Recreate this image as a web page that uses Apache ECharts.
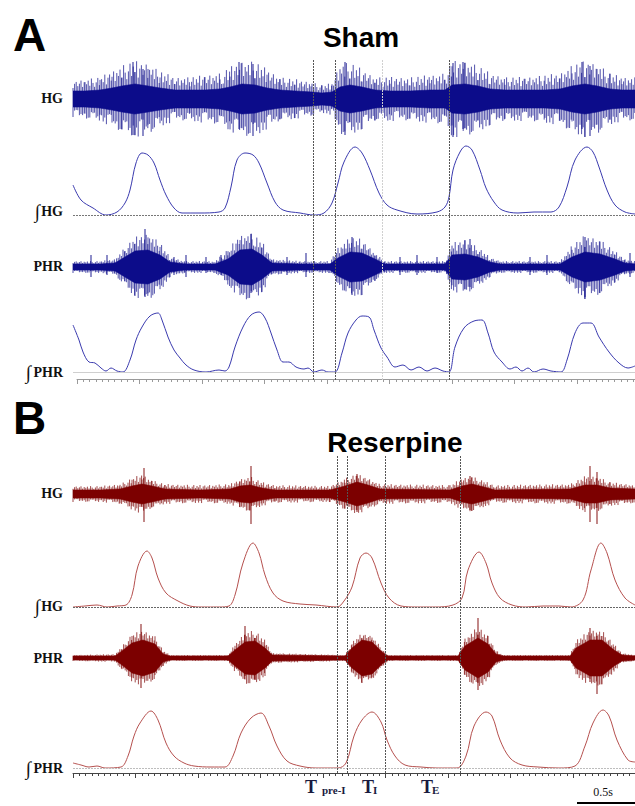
<!DOCTYPE html>
<html><head><meta charset="utf-8">
<script src="https://cdn.jsdelivr.net/npm/echarts@6/dist/echarts.min.js"></script>
<style>html,body{margin:0;padding:0;background:#fff}#c{width:635px;height:806px}</style>
</head><body><div id="c"></div>
<script>
// ---- time in ms; envelope / integrated amplitudes in arbitrary units ----
const markersA = [1920, 2096, 2472, 3008];
const markersB = [2112, 2192, 2496, 3096];

// raw envelopes: [t, core half-amplitude, spike half-amplitude]
const rawHG_A = [[0,8,18],[96,8,20],[216,9,22],[312,11,28],[392,13,34],[496,15,38],[600,13,36],[696,11,28],[816,9,22],[936,9,22],[1056,9,24],[1176,10,26],[1256,12,32],[1352,15,38],[1456,14,38],[1552,11,30],[1656,9,22],[1776,8,20],[1912,7,17],[1992,6,14],[2072,7,16],[2136,12,36],[2216,14,37],[2312,12,30],[2416,9,22],[2536,8,22],[2696,8,22],[2856,9,24],[2976,9,26],[3032,14,38],[3136,15,38],[3240,13,34],[3336,10,26],[3456,9,22],[3616,9,22],[3776,9,24],[3896,10,26],[3992,13,34],[4096,15,38],[4192,13,36],[4296,10,26],[4392,9,22],[4496,9,22]];
const spikesHG_A = [[480,37,36],[560,30,37],[1328,37,30],[1440,35,37],[2176,37,36],[3040,36,38],[3120,37,30],[4072,37,30],[4136,33,37]];

const rawPHR_A = [[0,3,6],[216,3,6],[336,4,8],[416,10,20],[496,16,30],[600,17,34],[696,12,25],[776,5,10],[896,3,6],[1136,3,6],[1240,8,18],[1336,17,32],[1432,18,34],[1512,12,26],[1592,4,8],[1816,3,6],[2056,3,6],[2120,9,20],[2216,15,30],[2312,14,28],[2416,8,14],[2496,3,6],[2976,3,6],[3032,12,24],[3136,13,28],[3240,10,20],[3336,5,10],[3416,3,6],[3896,3,6],[3992,10,22],[4096,15,32],[4216,13,28],[4336,8,16],[4416,4,8],[4496,3,6]];
const spikesPHR_A = [[144,12,10],[272,12,8],[808,10,8],[904,12,10],[1064,10,6],[1184,12,8],[1712,10,8],[1864,14,10],[2616,10,8],[2752,12,8],[2912,10,6],[3656,10,8],[3792,12,8],[4456,14,10],[576,38,30],[1424,33,26],[2232,30,28],[3176,28,20],[4096,30,30]];

const rawHG_B = [[0,4,8],[216,4,8],[376,5,10],[472,8,16],[552,10,20],[632,8,14],[736,5,10],[1016,4,9],[1256,5,10],[1336,8,15],[1416,9,18],[1512,6,12],[1616,4,9],[2056,4,8],[2176,8,16],[2272,12,20],[2360,9,16],[2456,5,10],[3016,4,9],[3112,8,16],[3192,10,18],[3288,7,13],[3376,4,9],[3976,5,10],[4096,9,18],[4192,9,18],[4296,6,12],[4496,5,9]];
const spikesHG_B = [[568,26,28],[1424,28,30],[2272,20,18],[3176,18,16],[4136,28,28],[4192,22,30]];

const rawPHR_B = [[0,2,3],[336,2,4],[392,7,12],[472,15,24],[560,18,28],[656,14,22],[720,4,8],[776,2,3],[1240,2,3],[1296,8,14],[1376,16,26],[1456,17,28],[1536,10,18],[1592,3,5],[2176,2,3],[2232,10,16],[2312,18,25],[2392,16,22],[2472,6,10],[2520,2,3],[3080,2,3],[3136,12,20],[3240,20,32],[3320,14,22],[3384,4,8],[3440,2,3],[3976,2,3],[4024,10,18],[4136,18,28],[4232,18,28],[4328,8,14],[4392,3,5],[4496,2,3]];
const spikesPHR_B = [[544,34,30],[1376,32,18],[1456,20,22],[3240,40,32],[4136,30,24],[4192,22,36]];

// integrated traces: [t, amplitude]
const intHG_A = [[0,30],[64,15],[160,7],[264,0],[352,3],[416,12],[456,25],[504,52],[552,62],[600,60],[648,52],[696,35],[744,20],[808,7],[872,2],[1016,2],[1168,3],[1216,7],[1264,28],[1312,55],[1376,62],[1440,60],[1488,52],[1552,32],[1616,13],[1680,5],[1816,2],[1928,0],[2008,2],[2072,12],[2120,32],[2168,53],[2256,68],[2312,62],[2376,45],[2448,22],[2512,10],[2592,5],[2752,1],[2912,3],[2976,8],[3008,18],[3040,45],[3096,63],[3144,69],[3192,65],[3256,45],[3304,27],[3368,13],[3432,5],[3560,2],[3688,3],[3824,3],[3888,8],[3952,28],[4016,55],[4112,68],[4160,63],[4208,48],[4272,25],[4336,10],[4416,3],[4496,1]];
const intPHR_A = [[0,47],[48,32],[80,20],[128,10],[176,9],[224,4],[264,1],[304,4],[352,1],[400,0],[456,12],[504,32],[552,45],[616,56],[680,59],[712,52],[760,35],[808,22],[856,14],[904,7],[968,2],[1064,0],[1168,2],[1216,1],[1248,5],[1296,25],[1360,45],[1424,57],[1488,60],[1536,54],[1584,39],[1632,22],[1680,10],[1728,10],[1784,5],[1848,3],[1880,4],[1928,0],[1992,2],[2040,0],[2096,0],[2152,19],[2200,39],[2264,52],[2312,56],[2368,55],[2408,42],[2464,24],[2512,15],[2576,5],[2640,7],[2704,2],[2768,5],[2832,1],[2896,4],[2960,1],[3008,0],[3056,25],[3128,44],[3208,51],[3272,52],[3320,39],[3368,20],[3432,10],[3496,3],[3544,5],[3592,1],[3640,4],[3688,0],[3760,3],[3824,1],[3904,0],[3952,12],[4016,39],[4080,49],[4144,49],[4208,35],[4288,20],[4368,9],[4440,4],[4496,6]];
const intHG_B = [[0,0],[96,1],[192,2],[272,0],[352,1],[424,2],[472,12],[520,41],[592,56],[632,49],[680,29],[744,14],[840,6],[936,1],[1032,0],[1168,0],[1248,1],[1296,12],[1360,44],[1440,64],[1488,54],[1536,32],[1600,14],[1680,6],[1816,3],[1944,2],[2112,0],[2168,6],[2232,20],[2296,49],[2344,54],[2392,49],[2464,24],[2528,9],[2624,1],[2752,0],[2896,0],[3040,2],[3112,9],[3160,37],[3248,55],[3304,44],[3352,24],[3416,9],[3512,2],[3624,0],[3760,1],[3888,1],[3984,0],[4080,7],[4144,37],[4224,64],[4272,54],[4336,27],[4416,9],[4496,2]];
const intPHR_B = [[0,5],[64,3],[128,1],[192,2],[256,0],[384,1],[440,12],[488,32],[536,45],[624,57],[680,48],[744,25],[808,12],[888,5],[968,2],[1104,1],[1216,1],[1280,12],[1344,35],[1424,50],[1504,55],[1568,42],[1632,22],[1712,7],[1816,2],[1944,0],[2120,0],[2184,5],[2248,32],[2312,48],[2392,56],[2464,46],[2512,28],[2576,12],[2656,3],[2784,1],[2912,0],[3072,0],[3144,12],[3208,42],[3304,56],[3352,52],[3416,28],[3496,10],[3592,3],[3720,1],[3888,0],[4016,2],[4096,22],[4160,45],[4240,58],[4288,52],[4352,28],[4440,8],[4496,6]];

const T_MAX = 4496;
// fixed hatch pattern used only to texture the spike fringe of the raw envelopes
const HATCH = [0.62,0.95,0.38,0.78,0.52,1.0,0.3,0.7,0.86,0.45,0.66,0.92,0.35,0.74,0.55,0.83,0.4,0.97,0.6,0.28];

const chart = echarts.init(document.getElementById('c'), null, {renderer: 'svg', width: 635, height: 806});

const blueDark = '#0c0c8a', blueInt = '#3a3aae';
const redDark = '#7c0000', redInt = '#b5504e';

// grids: [top, height, ymin, ymax]
const gridDefs = [
  [60, 78, -39, 39],   // 0 HG A
  [140, 75, 0, 75],    // 1 ∫HG A
  [227, 80, -40, 40],  // 2 PHR A
  [300, 72, 0, 72],    // 3 ∫PHR A
  [460, 68, -34, 34],  // 4 HG B
  [537, 70, 0, 70],    // 5 ∫HG B
  [618, 80, -40, 40],  // 6 PHR B
  [698, 70, 0, 70]     // 7 ∫PHR B
];
const grid = [], xAxis = [], yAxis = [], series = [];
gridDefs.forEach((g, i) => {
  grid.push({left: 73, right: 0, top: g[0], height: g[1]});
  xAxis.push({type: 'value', gridIndex: i, min: 0, max: T_MAX, show: false});
  yAxis.push({type: 'value', gridIndex: i, min: g[2], max: g[3], show: false});
});
grid.push({left: 73, right: 0, top: 60, height: 320});
grid.push({left: 73, right: 0, top: 456, height: 317});
grid.push({left: 77, right: 0, top: 374, height: 5});
grid.push({left: 73, right: 0, top: 768, height: 5});
[8, 9].forEach(i => {
  xAxis.push({type: 'value', gridIndex: i, min: 0, max: T_MAX, show: false});
  yAxis.push({type: 'value', gridIndex: i, min: 0, max: 1, show: false});
});
[[10, '#9a9a9a', 4464], [11, '#444', T_MAX]].forEach(([i, col, mx]) => {
  xAxis.push({type: 'value', gridIndex: i, min: 0, max: mx, interval: 500,
    axisLine: {show: true, lineStyle: {color: col, width: 1}},
    axisTick: {show: true, length: 5, lineStyle: {color: col, width: 1}},
    minorTick: {show: true, splitNumber: 10, length: 3, lineStyle: {color: col, width: 1}},
    axisLabel: {show: false}, splitLine: {show: false}});
  yAxis.push({type: 'value', gridIndex: i, min: 0, max: 1, show: false});
});

function rawSeries(gi, rows, spikes, dark) {
  const base = {type: 'line', xAxisIndex: gi, yAxisIndex: gi, showSymbol: false, silent: true, animation: false};
  const mk = (idx, sign, col, w) => Object.assign({}, base, {
    data: rows.map(r => [r[0], sign * r[idx]]),
    lineStyle: {color: col, width: w},
    areaStyle: {color: col, opacity: 1}
  });
  // textured fringe between core and spike envelope
  series.push({
    type: 'custom', xAxisIndex: gi, yAxisIndex: gi, silent: true, animation: false,
    data: rows, encode: {x: 0, y: [1, 2]},
    renderItem: (p, api) => {
      const i = p.dataIndex;
      if (i >= rows.length - 1) return null;
      const r0 = rows[i], r1 = rows[i + 1];
      const a = api.coord([r0[0], 0]), b = api.coord([r1[0], 0]);
      const children = [];
      for (let px = Math.ceil(a[0]); px < b[0]; px += 1.6) {
        const f = (px - a[0]) / (b[0] - a[0]);
        const t = r0[0] + (r1[0] - r0[0]) * f;
        const core = r0[1] + (r1[1] - r0[1]) * f;
        const pk = r0[2] + (r1[2] - r0[2]) * f;
        const k = Math.round(px / 1.6);
        const up = core + (pk - core) * HATCH[k % HATCH.length];
        const dn = core + (pk - core) * HATCH[(k * 7 + 3) % HATCH.length];
        const pu = api.coord([t, up]), pd = api.coord([t, -dn]);
        children.push({type: 'line', shape: {x1: px, y1: pu[1], x2: px, y2: pd[1]},
          style: {stroke: dark, lineWidth: 0.9, opacity: 0.8}});
      }
      return {type: 'group', children};
    }
  });
  series.push(mk(1, 1, dark, 0.6), mk(1, -1, dark, 0.6));
  series.push({
    type: 'custom', xAxisIndex: gi, yAxisIndex: gi, silent: true, animation: false,
    data: spikes, encode: {x: 0, y: [1, 2]},
    renderItem: (p, api) => {
      const a = api.coord([api.value(0), api.value(1)]);
      const b = api.coord([api.value(0), -api.value(2)]);
      return {type: 'line', shape: {x1: a[0], y1: a[1], x2: b[0], y2: b[1]}, style: {stroke: dark, lineWidth: 1.1, opacity: 0.85}};
    }
  });
}
function intSeries(gi, data, col, baseCol, baseType) {
  series.push({
    type: 'line', xAxisIndex: gi, yAxisIndex: gi, data: data, showSymbol: false, smooth: 0.35,
    silent: true, animation: false, lineStyle: {color: col, width: 1},
    markLine: {silent: true, symbol: 'none', label: {show: false}, animation: false,
      lineStyle: {color: baseCol, type: baseType, width: 1}, data: [{yAxis: 0}]}
  });
}
function markerSeries(gi, times, faintIdx) {
  series.push({
    type: 'line', xAxisIndex: gi, yAxisIndex: gi, data: [], silent: true, animation: false,
    markLine: {silent: true, symbol: 'none', label: {show: false}, animation: false,
      data: times.map((t, k) => ({xAxis: t, lineStyle: {color: k === faintIdx ? '#d0d0d0' : '#555', type: [2, 1], width: 1}}))}
  });
}

rawSeries(0, rawHG_A, spikesHG_A, blueDark);
intSeries(1, intHG_A, blueInt, '#777', [2, 1]);
rawSeries(2, rawPHR_A, spikesPHR_A, blueDark);
intSeries(3, intPHR_A, blueInt, '#cfcfcf', 'solid');
rawSeries(4, rawHG_B, spikesHG_B, redDark);
intSeries(5, intHG_B, redInt, '#666', [2, 1]);
rawSeries(6, rawPHR_B, spikesPHR_B, redDark);
intSeries(7, intPHR_B, redInt, '#bdbdbd', [2, 1]);
markerSeries(8, markersA, 2);
markerSeries(9, markersB, -1);
series.push({type: 'line', xAxisIndex: 10, yAxisIndex: 10, data: [], silent: true});
series.push({type: 'line', xAxisIndex: 11, yAxisIndex: 11, data: [], silent: true});

const serif = '"Liberation Serif","DejaVu Serif",serif';
const sans = '"Liberation Sans",Arial,sans-serif';
const lab = (txt, y) => ({type: 'text', x: 63, y: y, style: {text: txt, font: 'bold 14px ' + serif, fill: '#111', textAlign: 'right', textVerticalAlign: 'middle'}});
const integ = (x, y) => ({type: 'text', x: x, y: y, style: {text: '\u222B', font: '19px ' + serif, fill: '#111', textAlign: 'right', textVerticalAlign: 'middle'}});
const graphic = [
  {type: 'text', x: 13, y: 58, style: {text: 'A', font: 'bold 46px ' + sans, fill: '#000', textVerticalAlign: 'bottom'}},
  {type: 'text', x: 361, y: 51, style: {text: 'Sham', font: 'bold 28px ' + sans, fill: '#000', textAlign: 'center', textVerticalAlign: 'bottom'}},
  {type: 'text', x: 13, y: 441, style: {text: 'B', font: 'bold 46px ' + sans, fill: '#000', textVerticalAlign: 'bottom'}},
  {type: 'text', x: 395, y: 456, style: {text: 'Reserpine', font: 'bold 28px ' + sans, fill: '#000', textAlign: 'center', textVerticalAlign: 'bottom'}},
  lab('HG', 98), lab('HG', 211), integ(40, 211), lab('PHR', 266), lab('PHR', 372), integ(31, 372),
  lab('HG', 493), lab('HG', 606), integ(40, 606), lab('PHR', 658), lab('PHR', 768), integ(31, 768),
  {type: 'text', x: 305, y: 796, style: {text: 'T', font: 'bold 18px ' + serif, fill: '#1a1a40', textVerticalAlign: 'bottom'}},
  {type: 'text', x: 322, y: 795, style: {text: 'pre-I', font: 'bold 11px ' + serif, fill: '#1a1a40', textVerticalAlign: 'bottom'}},
  {type: 'text', x: 362, y: 796, style: {text: 'T', font: 'bold 18px ' + serif, fill: '#1a1a40', textVerticalAlign: 'bottom'}},
  {type: 'text', x: 373, y: 795, style: {text: 'I', font: 'bold 11px ' + serif, fill: '#1a1a40', textVerticalAlign: 'bottom'}},
  {type: 'text', x: 421, y: 796, style: {text: 'T', font: 'bold 18px ' + serif, fill: '#1a1a40', textVerticalAlign: 'bottom'}},
  {type: 'text', x: 432, y: 795, style: {text: 'E', font: 'bold 11px ' + serif, fill: '#1a1a40', textVerticalAlign: 'bottom'}},
  {type: 'text', x: 603, y: 798, style: {text: '0.5s', font: '12px ' + serif, fill: '#111', textAlign: 'center', textVerticalAlign: 'bottom'}},
  {type: 'line', shape: {x1: 577, y1: 803, x2: 635, y2: 803}, style: {stroke: '#000', lineWidth: 2}}
];

chart.setOption({animation: false, grid, xAxis, yAxis, series, graphic});
</script></body></html>
